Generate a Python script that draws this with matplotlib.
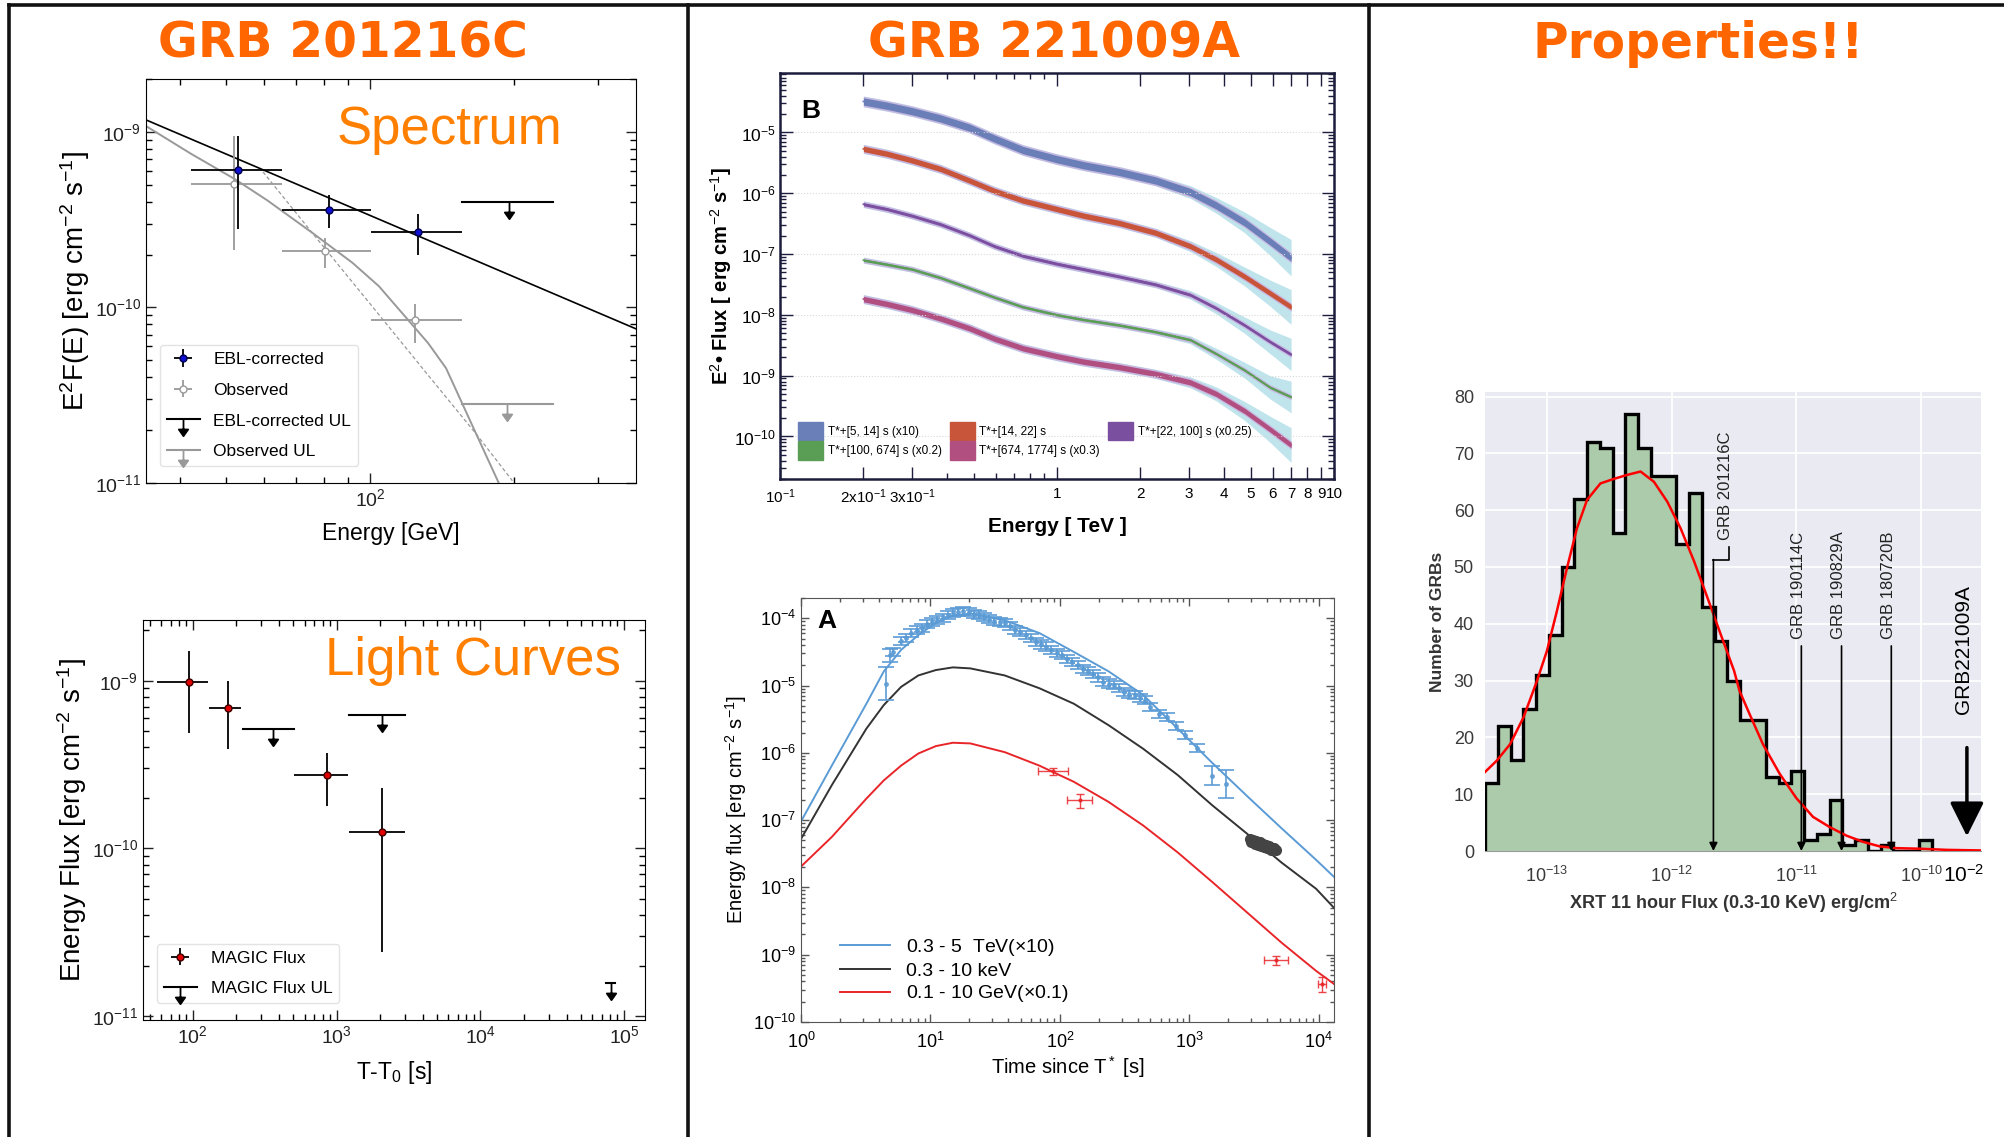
import numpy as np
from matplotlib import pyplot as plt
from matplotlib.lines import Line2D
from matplotlib.patches import Patch
from matplotlib.path import Path
from matplotlib.ticker import FixedLocator, FixedFormatter, LogLocator, NullFormatter

# ---------------- GRB 201216C : spectrum (MAGIC) ----------------
spec_ebl_e = [53, 82, 126]
spec_ebl_e_lo = [42.3, 65.3, 100.6]
spec_ebl_e_hi = [65.3, 100.6, 155.4]
spec_ebl = [6.1e-10, 3.6e-10, 2.7e-10]
spec_ebl_lo = [2.8e-10, 2.85e-10, 2.0e-10]
spec_ebl_hi = [9.5e-10, 4.35e-10, 3.4e-10]

spec_obs_e = [52, 80.6, 124]
spec_obs = [5.05e-10, 2.1e-10, 8.5e-11]
spec_obs_lo = [2.13e-10, 1.67e-10, 6.3e-11]
spec_obs_hi = [9.5e-10, 2.47e-10, 1.05e-10]

spec_ul_e = [195, 193]
spec_ul_lo = [156, 156]
spec_ul_hi = [241, 241]
spec_ul = [4.0e-10, 2.83e-11]

ebl_model_e = [34, 360]
ebl_model = [1.17e-9, 7.55e-11]
obs_model_e = [33.8, 42.3, 52.1, 61.0, 75.6, 91.8, 104.4, 120.1, 132.3, 144.2, 166.8, 185.9]
obs_model = [1.09e-9, 7.48e-10, 5.39e-10, 4.07e-10, 2.67e-10, 1.80e-10, 1.32e-10, 8.49e-11,
             6.26e-11, 4.51e-11, 1.90e-11, 1.0e-11]
obs_dash_e = [59.7, 75.6, 100, 132.3, 166.8, 198.5]
obs_dash = [5.92e-10, 2.67e-10, 1.05e-10, 4.11e-11, 1.90e-11, 1.03e-11]

# ---------------- GRB 201216C : light curve ----------------
lc_t = [93.7, 175, 853, 2080]
lc_t_lo = [56.4, 130, 506, 1213]
lc_t_hi = [128.5, 217, 1197, 2972]
lc_f = [9.85e-10, 6.9e-10, 2.74e-10, 1.26e-10]
lc_f_lo = [4.89e-10, 3.94e-10, 1.79e-10, 2.4e-11]
lc_f_hi = [1.5e-9, 9.9e-10, 3.69e-10, 2.3e-10]
lc_ul_t = [361, 2080, 8.1e4]
lc_ul_lo = [222, 1213, 7.5e4]
lc_ul_hi = [502, 2972, 8.7e4]
lc_ul = [5.12e-10, 6.26e-10, 1.57e-11]

# ---------------- GRB 221009A : SED bands (log10 flux) ----------------
sed_e = [0.2, 0.243, 0.3, 0.38, 0.483, 0.594, 0.754, 1.0, 1.25, 1.68, 2.27, 3.03, 3.76, 4.76, 5.87, 7.0]
sed_labels = ['T*+[5, 14] s (x10)', 'T*+[14, 22] s', 'T*+[22, 100] s (x0.25)',
              'T*+[100, 674] s (x0.2)', 'T*+[674, 1774] s (x0.3)']
sed_log = [
    [-4.49, -4.56, -4.65, -4.77, -4.92, -5.10, -5.29, -5.44, -5.54, -5.65, -5.79, -5.98, -6.20, -6.48, -6.79, -7.06],
    [-5.27, -5.35, -5.46, -5.60, -5.79, -5.96, -6.12, -6.26, -6.37, -6.49, -6.65, -6.87, -7.09, -7.37, -7.64, -7.87],
    [-6.18, -6.26, -6.37, -6.51, -6.69, -6.87, -7.03, -7.16, -7.25, -7.37, -7.50, -7.67, -7.89, -8.17, -8.44, -8.65],
    [-7.10, -7.17, -7.25, -7.39, -7.56, -7.71, -7.87, -8.00, -8.08, -8.17, -8.28, -8.41, -8.64, -8.91, -9.19, -9.35],
    [-7.74, -7.82, -7.92, -8.06, -8.22, -8.39, -8.55, -8.68, -8.77, -8.86, -8.97, -9.11, -9.30, -9.58, -9.88, -10.14],
]
sed_width = [0.06, 0.045, 0.025, 0.02, 0.045]
sed_outer = [0.03, 0.03, 0.03, 0.03, 0.03, 0.03, 0.03, 0.03, 0.03, 0.03, 0.03, 0.045, 0.07, 0.11, 0.17, 0.24]
sed_colors = ['#6a7fb8', '#c8553a', '#7b4fa0', '#5a9e55', '#b04f80']

# ---------------- GRB 221009A : light curves ----------------
model_t = [1.0, 1.73, 3.2, 4.36, 5.93, 8.06, 11.0, 14.9, 20.3, 37.5, 69.4, 128, 238, 440, 813,
           1504, 2783, 5147, 9524, 13200]
model_tev_log = [-7.02, -6.19, -5.27, -4.79, -4.47, -4.25, -4.07, -3.96, -3.93, -4.03, -4.22, -4.50,
                 -4.79, -5.14, -5.64, -6.15, -6.64, -7.12, -7.59, -7.85]
model_xray_log = [-7.28, -6.48, -5.64, -5.29, -5.02, -4.85, -4.77, -4.73, -4.745, -4.85, -5.04, -5.27,
                  -5.59, -5.94, -6.33, -6.78, -7.20, -7.63, -8.02, -8.31]
model_gev_log = [-7.69, -7.25, -6.68, -6.41, -6.19, -6.01, -5.90, -5.85, -5.86, -5.99, -6.19, -6.43,
                 -6.73, -7.08, -7.48, -7.92, -8.37, -8.82, -9.24, -9.44]

tev_t = [4.50, 4.87, 5.18, 5.93, 6.50, 7.13, 7.82, 8.58, 9.40, 10.3, 11.3, 12.4, 13.6, 14.9, 16.4, 17.9,
         19.7, 21.6, 23.7, 26.0, 28.4, 31.2, 34.2, 37.5, 41.2, 45.2, 49.5, 54.3, 59.6, 65.3, 71.6, 78.6,
         86.1, 94.5, 104, 114, 125, 137, 150, 164, 180, 198, 217, 238, 261, 286, 314, 344, 377, 414,
         454, 498, 580, 677, 789, 920, 1141, 1487, 1926]
tev_log = [-4.97, -4.55, -4.50, -4.34, -4.30, -4.22, -4.17, -4.15, -4.09, -4.05, -4.03, -3.99, -3.95,
           -3.92, -3.91, -3.89, -3.91, -3.93, -3.95, -3.98, -4.01, -4.04, -4.05, -4.07, -4.12, -4.17,
           -4.20, -4.25, -4.30, -4.35, -4.39, -4.42, -4.47, -4.51, -4.55, -4.60, -4.65, -4.69, -4.75,
           -4.79, -4.83, -4.88, -4.94, -4.97, -4.99, -5.04, -5.09, -5.12, -5.14, -5.19, -5.22, -5.32,
           -5.42, -5.47, -5.60, -5.74, -5.93, -6.34, -6.46]
tev_err = [0.24, 0.1, 0.06, 0.06, 0.06, 0.06, 0.06, 0.06, 0.06, 0.06, 0.06, 0.06, 0.06, 0.06, 0.06,
           0.06, 0.06, 0.06, 0.06, 0.06, 0.06, 0.06, 0.06, 0.06, 0.06, 0.06, 0.06, 0.06, 0.06, 0.06,
           0.06, 0.06, 0.06, 0.06, 0.06, 0.06, 0.06, 0.06, 0.06, 0.06, 0.06, 0.06, 0.06, 0.06, 0.06,
           0.06, 0.06, 0.06, 0.06, 0.06, 0.06, 0.06, 0.06, 0.06, 0.06, 0.06, 0.06, 0.14, 0.21]

xray_t = [2950, 3000, 3100, 3200, 3300, 3400, 3500, 3600, 3700, 3800, 3900, 4000, 4150, 4300, 4500, 4650]
xray_log = [-7.28, -7.33, -7.30, -7.35, -7.31, -7.37, -7.33, -7.39, -7.35, -7.40, -7.37, -7.42, -7.39,
            -7.44, -7.42, -7.45]

gev_t = [88.8, 143.6, 4700, 10570]
gev_t_lo = [67.4, 113.5, 3790, 9820]
gev_t_hi = [115, 178, 5820, 11450]
gev_log = [-6.274, -6.706, -9.079, -9.437]
gev_log_lo = [-6.334, -6.82, -9.154, -9.561]
gev_log_hi = [-6.224, -6.607, -9.015, -9.338]

# ---------------- XRT 11 hour flux distribution ----------------
hist_first_edge = -13.496
hist_bin_width = 0.1023
hist_counts = [12, 22, 16, 25, 31, 38, 50, 62, 72, 71, 56, 77, 71, 66, 66, 54, 63, 43, 37, 30, 23, 23,
               13, 12, 14, 2, 3, 9, 1, 2, 0, 1, 0, 0, 2]
kde_logx = [-13.496, -13.402, -13.295, -13.188, -13.08, -13.0, -12.92, -12.839, -12.759, -12.678,
            -12.571, -12.464, -12.357, -12.249, -12.142, -12.035, -11.928, -11.82, -11.713, -11.606,
            -11.499, -11.456, -11.375, -11.268, -11.134, -11.0, -10.866, -10.732, -10.598, -10.464,
            -10.33, -10.196, -10.008, -9.794, -9.525]
kde_n = [13.9, 15.9, 18.8, 23.5, 29.9, 35.2, 42.2, 49.8, 56.8, 61.8, 64.7, 65.5, 66.2, 66.8, 65.0,
         61.5, 56.8, 51.0, 44.6, 38.1, 31.7, 28.2, 24.1, 18.8, 13.6, 9.3, 6.0, 4.2, 2.7, 1.6, 0.8,
         0.5, 0.4, 0.2, 0.1]
grb_names = ['GRB 190114C', 'GRB 190829A', 'GRB 180720B']
grb_logx = [-10.96, -10.638, -10.239]
grb201216c_logx = -11.665
grb221009a_logx = -9.633

W, H = 2004, 1137
TITLE_ORANGE = '#ff6600'
TEXT_ORANGE = '#ff8000'

plt.rcParams['font.family'] = ['Liberation Sans', 'DejaVu Sans']
plt.rcParams['mathtext.fontset'] = 'custom'
plt.rcParams['mathtext.rm'] = 'Liberation Sans'
plt.rcParams['mathtext.it'] = 'Liberation Sans:italic'
plt.rcParams['mathtext.bf'] = 'Liberation Sans:bold'

# upper-limit marker: stem hanging under the point, filled arrow head
UL_ARROW = Path([(0, 0), (0, -0.6), (-0.28, -0.6), (0.28, -0.6), (0, -1), (-0.28, -0.6)],
                [Path.MOVETO, Path.LINETO, Path.MOVETO, Path.LINETO, Path.LINETO, Path.CLOSEPOLY])


def box(x0, y0, x1, y1):
    return [x0 / W, 1 - y1 / H, (x1 - x0) / W, (y1 - y0) / H]


def asym(v, lo, hi):
    v, lo, hi = np.array(v), np.array(lo), np.array(hi)
    return [v - lo, hi - v]


def in_ticks(ax, color='k', major=7, minor=4, width=1.0):
    ax.tick_params(which='both', direction='in', top=True, right=True, color=color, width=width)
    ax.tick_params(which='major', length=major)
    ax.tick_params(which='minor', length=minor)
    ax.xaxis.set_minor_locator(LogLocator(10, subs=np.arange(2, 10), numticks=100))
    ax.yaxis.set_minor_locator(LogLocator(10, subs=np.arange(2, 10), numticks=100))
    ax.xaxis.set_minor_formatter(NullFormatter())
    ax.yaxis.set_minor_formatter(NullFormatter())


fig = plt.figure(figsize=(W / 100, H / 100), dpi=100)

# panel frame
for x in (9, 688, 1369):
    fig.add_artist(Line2D([x / W, x / W], [0, 1 - 5 / H], color='#111111', lw=2.6))
fig.add_artist(Line2D([9 / W, 1], [1 - 5 / H, 1 - 5 / H], color='#111111', lw=2.6))

for x, title in [(343, 'GRB 201216C'), (1054, 'GRB 221009A'), (1698, 'Properties!!')]:
    fig.text(x / W, 1 - 44 / H, title, color=TITLE_ORANGE, fontsize=35, fontweight='bold',
             ha='center', va='center', family='DejaVu Sans')

# ---------- spectrum ----------
ax1 = fig.add_axes(box(146, 79, 636, 483))
ax1.set_xscale('log')
ax1.set_yscale('log')
ax1.plot(ebl_model_e, ebl_model, color='k', lw=1.2)
ax1.plot(obs_model_e, obs_model, color='#999999', lw=1.4)
ax1.plot(obs_dash_e, obs_dash, color='#999999', lw=0.9, ls=(0, (3, 2)))
h_ebl = ax1.errorbar(spec_ebl_e, spec_ebl, xerr=asym(spec_ebl_e, spec_ebl_e_lo, spec_ebl_e_hi),
                     yerr=asym(spec_ebl, spec_ebl_lo, spec_ebl_hi), fmt='o', ms=5, mfc='#1010d0',
                     mec='#000050', ecolor='k', elinewidth=1.3, capsize=0, zorder=4)
h_obs = ax1.errorbar(spec_obs_e, spec_obs, xerr=asym(spec_obs_e, spec_ebl_e_lo, spec_ebl_e_hi),
                     yerr=asym(spec_obs, spec_obs_lo, spec_obs_hi), fmt='o', ms=5, mfc='white',
                     mec='#999999', ecolor='#999999', elinewidth=1.3, capsize=0, zorder=3)
ul_colors = ['k', '#999999']
for e, lo, hi, f, c in zip(spec_ul_e, spec_ul_lo, spec_ul_hi, spec_ul, ul_colors):
    ax1.plot([lo, hi], [f, f], color=c, lw=1.5)
    ax1.plot([e], [f], marker=UL_ARROW, ms=24, color=c, mfc=c, mew=1.3, ls='none')
ax1.set_xlim(34, 360)
ax1.set_ylim(1e-11, 2e-9)
in_ticks(ax1)
ax1.tick_params(labelsize=14, colors='#222222')
ax1.set_ylabel(r'E$^2$F(E) [erg cm$^{-2}$ s$^{-1}$]', fontsize=20, labelpad=2)
ax1.set_xlabel('Energy [GeV]', fontsize=16.5, labelpad=9)
ax1.text(0.62, 0.874, 'Spectrum', transform=ax1.transAxes, color=TEXT_ORANGE, fontsize=38,
         ha='center', va='center')
h_ul_k = Line2D([], [], color='k', lw=1.5, marker=UL_ARROW, ms=24, mfc='k', mew=1.3)
h_ul_g = Line2D([], [], color='#999999', lw=1.5, marker=UL_ARROW, ms=24, mfc='#999999', mew=1.3)
ax1.legend([h_ebl, h_obs, h_ul_k, h_ul_g], ['EBL-corrected', 'Observed', 'EBL-corrected UL', 'Observed UL'],
           loc='lower left', bbox_to_anchor=(0.01, 0.02), prop={'size': 12.5},
           labelspacing=0.9, handlelength=1.9, edgecolor='#dddddd', fancybox=True)

# ---------- light curve ----------
ax2 = fig.add_axes(box(143, 620, 645, 1020))
ax2.set_xscale('log')
ax2.set_yscale('log')
h_lc = ax2.errorbar(lc_t, lc_f, xerr=asym(lc_t, lc_t_lo, lc_t_hi), yerr=asym(lc_f, lc_f_lo, lc_f_hi),
                    fmt='o', ms=5, mfc='#e00000', mec='#400000', ecolor='k', elinewidth=1.3, capsize=0)
for t, lo, hi, f in zip(lc_ul_t, lc_ul_lo, lc_ul_hi, lc_ul):
    ax2.plot([lo, hi], [f, f], color='k', lw=1.5)
    ax2.plot([t], [f], marker=UL_ARROW, ms=24, color='k', mfc='k', mew=1.3, ls='none')
ax2.set_xlim(45, 1.4e5)
ax2.set_ylim(9.5e-12, 2.3e-9)
in_ticks(ax2)
ax2.tick_params(labelsize=14, colors='#222222')
ax2.set_ylabel(r'Energy Flux [erg cm$^{-2}$ s$^{-1}$]', fontsize=20, labelpad=2)
ax2.set_xlabel(r'T-T$_0$ [s]', fontsize=16.5, labelpad=9)
ax2.text(0.657, 0.897, 'Light Curves', transform=ax2.transAxes, color=TEXT_ORANGE, fontsize=38,
         ha='center', va='center')
ax2.legend([h_lc, h_ul_k], ['MAGIC Flux', 'MAGIC Flux UL'], loc='lower left',
           bbox_to_anchor=(0.01, 0.02), prop={'size': 12.5}, labelspacing=0.9,
           handlelength=1.9, edgecolor='#dddddd', fancybox=True)

# ---------- GRB 221009A SED ----------
ax3 = fig.add_axes(box(780, 73, 1334, 479))
ax3.set_xscale('log')
ax3.set_yscale('log')
outer = np.array(sed_outer)
for logf, w, c in zip(sed_log, sed_width, sed_colors):
    logf = np.array(logf)
    ax3.fill_between(sed_e, 10 ** (logf - w - outer), 10 ** (logf + w + outer), color='#bfe4ec', lw=0)
    ax3.fill_between(sed_e, 10 ** (logf - w - 0.025), 10 ** (logf + w + 0.025), color='#c9b8e2', lw=0)
    ax3.fill_between(sed_e, 10 ** (logf - w), 10 ** (logf + w), color=c, lw=0)
    ax3.plot(sed_e, 10 ** logf, color=c, lw=1.2)
ax3.set_xlim(0.1, 10)
ax3.set_ylim(2e-11, 9.5e-5)
ax3.yaxis.grid(True, color='#d8d8d8', ls=':', lw=0.8)
in_ticks(ax3, color='#1c1c3c', major=9, minor=4)
ax3.xaxis.set_major_locator(FixedLocator([0.1, 0.2, 0.3, 1, 2, 3, 4, 5, 6, 7, 8, 9, 10]))
ax3.xaxis.set_major_formatter(FixedFormatter(['10$^{-1}$', '2x10$^{-1}$', '3x10$^{-1}$', '1', '2', '3',
                                              '4', '5', '6', '7', '8', '9', '10']))
ax3.xaxis.set_minor_locator(FixedLocator([0.4, 0.5, 0.6, 0.7, 0.8, 0.9]))
ax3.tick_params(axis='y', labelsize=12.5, pad=3)
ax3.tick_params(axis='x', labelsize=11, pad=6)
for s in ax3.spines.values():
    s.set_color('#1c1c3c')
    s.set_linewidth(1.8)
ax3.set_ylabel(r'E$^2$• Flux [ erg cm$^{-2}$ s$^{-1}$]', fontsize=14.5, fontweight='bold', labelpad=0)
ax3.set_xlabel('Energy [ TeV ]', fontsize=15, fontweight='bold', labelpad=8)
ax3.text(0.038, 0.906, 'B', transform=ax3.transAxes, fontsize=19, fontweight='bold', va='center')
order = [0, 3, 1, 4, 2]
ax3.legend([Patch(color=sed_colors[i]) for i in order], [sed_labels[i] for i in order], ncol=3,
           loc='lower left', bbox_to_anchor=(0.02, 0.03), frameon=False, borderaxespad=0.2,
           prop={'size': 8.5}, handlelength=2.1, handleheight=2.0,
           handletextpad=0.4, columnspacing=0.7, labelspacing=0.1)

# ---------- GRB 221009A light curves ----------
ax4 = fig.add_axes(box(801, 598, 1334, 1022))
ax4.set_xscale('log')
ax4.set_yscale('log')
ax4.plot(model_t, 10 ** np.array(model_tev_log), color='#5b9bd5', lw=1.4, label=r'0.3 - 5  TeV($\times$10)')
ax4.plot(model_t, 10 ** np.array(model_xray_log), color='#333333', lw=1.4, label='0.3 - 10 keV')
ax4.plot(model_t, 10 ** np.array(model_gev_log), color='#e8262a', lw=1.4, label=r'0.1 - 10 GeV($\times$0.1)')
tev = np.array(tev_log)
ax4.errorbar(tev_t, 10 ** tev, yerr=[10 ** tev - 10 ** (tev - tev_err), 10 ** (tev + tev_err) - 10 ** tev],
             fmt='o', ms=2.5, color='#5b9bd5', elinewidth=1.4, capsize=5.5, capthick=1.4, alpha=0.85)
xr = np.array(xray_log)
ax4.errorbar(xray_t, 10 ** xr, yerr=[10 ** xr - 10 ** (xr - 0.04), 10 ** (xr + 0.04) - 10 ** xr],
             fmt='o', ms=7, color='#444444', elinewidth=1.5, capsize=2)
gl = np.array(gev_log)
ax4.errorbar(gev_t, 10 ** gl, xerr=asym(gev_t, gev_t_lo, gev_t_hi),
             yerr=[10 ** gl - 10 ** np.array(gev_log_lo), 10 ** np.array(gev_log_hi) - 10 ** gl],
             fmt='o', ms=2, color='#e8262a', elinewidth=1.0, capsize=3, alpha=0.85)
ax4.set_xlim(1, 1.31e4)
ax4.set_ylim(1e-10, 2e-4)
in_ticks(ax4, color='#555555', major=6, minor=3)
for s in ax4.spines.values():
    s.set_color('#555555')
ax4.tick_params(labelsize=13)
ax4.tick_params(axis='x', pad=7)
ax4.set_ylabel(r'Energy flux [erg cm$^{-2}$ s$^{-1}$]', fontsize=14.5, labelpad=3)
ax4.set_xlabel(r'Time since T$^*$ [s]', fontsize=14.5, labelpad=2)
ax4.text(0.03, 0.946, 'A', transform=ax4.transAxes, fontsize=19, fontweight='bold', va='center')
ax4.legend(loc='lower left', bbox_to_anchor=(0.04, 0.0), frameon=False, prop={'size': 14},
           handlelength=2.6, labelspacing=0.2)

# ---------- XRT flux histogram ----------
ax5 = fig.add_axes(box(1485, 392, 1981, 851))
ax5.set_facecolor('#eaeaf2')
ax5.set_xscale('log')
edges = 10 ** (hist_first_edge + hist_bin_width * np.arange(len(hist_counts) + 1))
ax5.stairs(hist_counts, edges, fill=True, color='#abcbab', zorder=2)
ax5.stairs(hist_counts, edges, color='k', lw=2.4, zorder=3)
ax5.plot(10 ** np.array(kde_logx), kde_n, color='#ff0000', lw=1.8, zorder=4)
ax5.set_xlim(10 ** -13.496, 10 ** -9.52)
ax5.set_ylim(0, 80.8)
ax5.grid(True, color='white', lw=1.3, zorder=0)
ax5.set_axisbelow(True)
for name, s in ax5.spines.items():
    s.set_visible(name == 'bottom')
ax5.spines['bottom'].set_color('#999999')
ax5.xaxis.set_major_locator(FixedLocator([1e-13, 1e-12, 1e-11, 1e-10]))
ax5.xaxis.set_minor_locator(FixedLocator([]))
ax5.set_yticks(np.arange(0, 81, 10))
ax5.tick_params(length=0, labelsize=13, colors='#3a3a3a', pad=8)
ax5.tick_params(axis='x', pad=11)
ax5.set_xlabel(r'XRT 11 hour Flux (0.3-10 KeV) erg/cm$^2$', fontsize=13, fontweight='bold',
               color='#333333', labelpad=3)
ax5.set_ylabel('Number of GRBs', fontsize=12.5, fontweight='bold', color='#333333', labelpad=6)

arrow_small = dict(arrowstyle='-|>', color='k', lw=1.2, mutation_scale=12, shrinkA=0, shrinkB=0)
# GRB 201216C with elbow leader
x0 = 10 ** grb201216c_logx
x_el = 10 ** -11.539
ax5.plot([x_el, x_el, x0], [53.6, 51.3, 51.3], color='k', lw=1.2, zorder=5)
ax5.annotate('', xy=(x0, 0), xytext=(x0, 51.3), arrowprops=arrow_small, zorder=5)
ax5.text(10 ** -11.571, 54.8, 'GRB 201216C', rotation=90, ha='center', va='bottom', fontsize=12,
         color='#222222', zorder=5)
for name, lx in zip(grb_names, grb_logx):
    ax5.annotate('', xy=(10 ** lx, 0), xytext=(10 ** lx, 36.1), arrowprops=arrow_small, zorder=5)
    ax5.text(10 ** (lx - 0.022), 37.3, name, rotation=90, ha='center', va='bottom', fontsize=12,
             color='#222222', zorder=5)
ax5.annotate('', xy=(10 ** grb221009a_logx, 2.6), xytext=(10 ** grb221009a_logx, 18.2),
             arrowprops=dict(arrowstyle='-|>,head_length=0.7,head_width=0.35', color='k', lw=2.5,
                             mutation_scale=30, shrinkA=0, shrinkB=0), zorder=5)
ax5.text(10 ** -9.66, 24.1, 'GRB221009A', rotation=90, ha='center', va='bottom', fontsize=15, zorder=5)
ax5.text(0.966, -0.052, r'10$^{-2}$', transform=ax5.transAxes, fontsize=15, ha='center', va='center')

fig.savefig('out.png', dpi=100)
